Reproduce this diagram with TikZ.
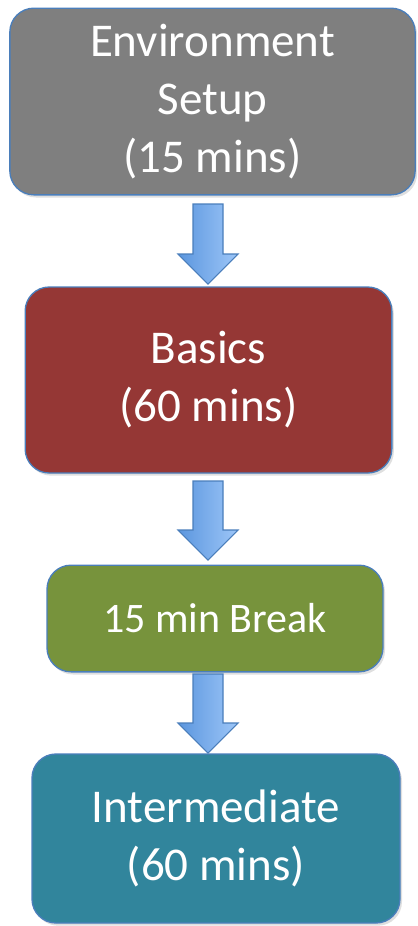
\documentclass[tikz,border=0pt]{standalone}
\usepackage{fontspec}
\setmainfont{Carlito}
\usepackage{xcolor}
\usetikzlibrary{calc,shadows}

\definecolor{boxline}{HTML}{4A7EBB}
\definecolor{setupgray}{HTML}{7F7F7F}
\definecolor{basicsred}{HTML}{953735}
\definecolor{breakgreen}{HTML}{77933C}
\definecolor{interteal}{HTML}{31859C}
\definecolor{arrowdark}{HTML}{5B96DE}
\definecolor{arrowlight}{HTML}{9DC6F8}

\newcommand{\blockdown}[2]{%
\draw [arrowblock] ($(#1)+(-15,0)$) -- ($(#1)+(15,0)$) -- ($(#2)+(15,-30)$) -- ($(#2)+(30,-30)$)
  -- (#2) -- ($(#2)+(-30,-30)$) -- ($(#2)+(-15,-30)$) -- cycle;}

\begin{document}
\begin{tikzpicture}[x=0.75pt,y=-0.75pt,
  stepbox/.style={draw=boxline, line width=1pt, rounded corners=18pt, text=white,
    align=center, inner sep=0pt, font=\fontsize{35.25}{43.5}\selectfont,
    drop shadow={opacity=0.25, shadow xshift=1.5pt, shadow yshift=-2pt}},
  arrowblock/.style={draw=boxline, line width=0.8pt, line join=miter,
    left color=arrowdark, right color=arrowlight}]

\useasboundingbox (0,0) rectangle (418,926);

\node [stepbox, fill=setupgray, minimum width=304pt, minimum height=140pt] (s1) at (212.5,101.5) {Environment\\Setup\\(15 mins)};
\node [stepbox, fill=basicsred, minimum width=275pt, minimum height=139.5pt] (s2) at (208.5,380) {Basics\\(60 mins)};
\node [stepbox, fill=breakgreen, minimum width=252pt, minimum height=80pt, font=\fontsize{31.5}{39}\selectfont] (s3) at (215,618.5) {15 min Break};
\node [stepbox, fill=interteal, minimum width=276pt, minimum height=126.75pt] (s4) at (216,838.5) {Intermediate\\(60 mins)};

\coordinate (a1) at (208,204);
\coordinate (t1) at (208,284);
\coordinate (a2) at (208,481);
\coordinate (t2) at (208,560);
\coordinate (a3) at (208,674);
\coordinate (t3) at (208,753);

\blockdown{a1}{t1}
\blockdown{a2}{t2}
\blockdown{a3}{t3}
\end{tikzpicture}
\end{document}
